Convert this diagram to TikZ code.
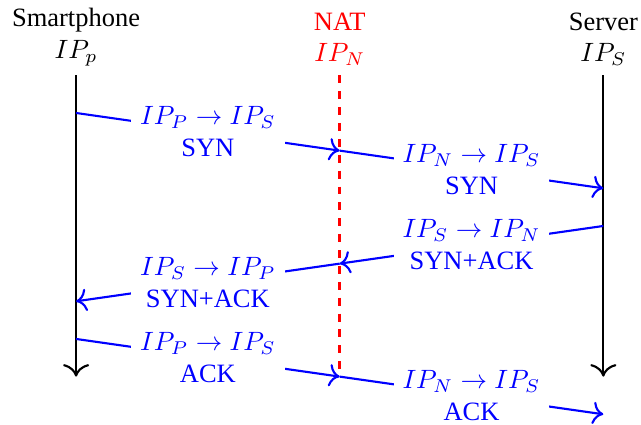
\documentclass[tikz,border=0pt]{standalone}
\usepackage{fontspec}
\setmainfont{Liberation Serif}
\usetikzlibrary{arrows.meta, positioning}

\begin{document}
\begin{tikzpicture}[
    actor/.style={anchor=south, align=center},
    life/.style={-{To[scale=1.4]}, thick, black},
    natline/.style={very thick, red, dashed},
    msg/.style={-{To[scale=1.2]}, thick, blue},
    lbl/.style={midway, fill=white, text=blue, align=center},
]
\useasboundingbox (-1.01,-5.64) rectangle (7.5,0);

% Endpoints
\node[actor] (phone) at (0,-1) {Smartphone\\$IP_p$};
\node[actor, text=red] (nat) at (3.5,-1) {NAT\\$IP_N$};
\node[actor] (server) at (7,-1) {Server\\$IP_S$};

\coordinate (phoneend) at (0,-5);
\coordinate (natend) at (3.5,-5);
\coordinate (serverend) at (7,-5);

\draw[life] (phone.south) -- (phoneend);
\draw[natline] (nat.south) -- (natend);
\draw[life] (server.south) -- (serverend);

% Message points
\coordinate (p1) at (0,-1.5);
\coordinate (n1) at (3.5,-2);
\coordinate (s1) at (7,-2.5);
\coordinate (s2) at (7,-3);
\coordinate (n2) at (3.5,-3.5);
\coordinate (p2) at (0,-4);
\coordinate (p3) at (0,-4.5);
\coordinate (n3) at (3.5,-5);
\coordinate (s3) at (7,-5.5);

% SYN
\draw[msg] (p1) -- node[lbl] {$IP_P \rightarrow IP_S$\\SYN} (n1);
\draw[msg] (n1) -- node[lbl] {$IP_N \rightarrow IP_S$\\SYN} (s1);

% SYN+ACK
\draw[msg] (s2) -- node[lbl] {$IP_S \rightarrow IP_N$\\SYN+ACK} (n2);
\draw[msg] (n2) -- node[lbl] {$IP_S \rightarrow IP_P$\\SYN+ACK} (p2);

% ACK
\draw[msg] (p3) -- node[lbl] {$IP_P \rightarrow IP_S$\\ACK} (n3);
\draw[msg] (n3) -- node[lbl] {$IP_N \rightarrow IP_S$\\ACK} (s3);

\end{tikzpicture}
\end{document}
